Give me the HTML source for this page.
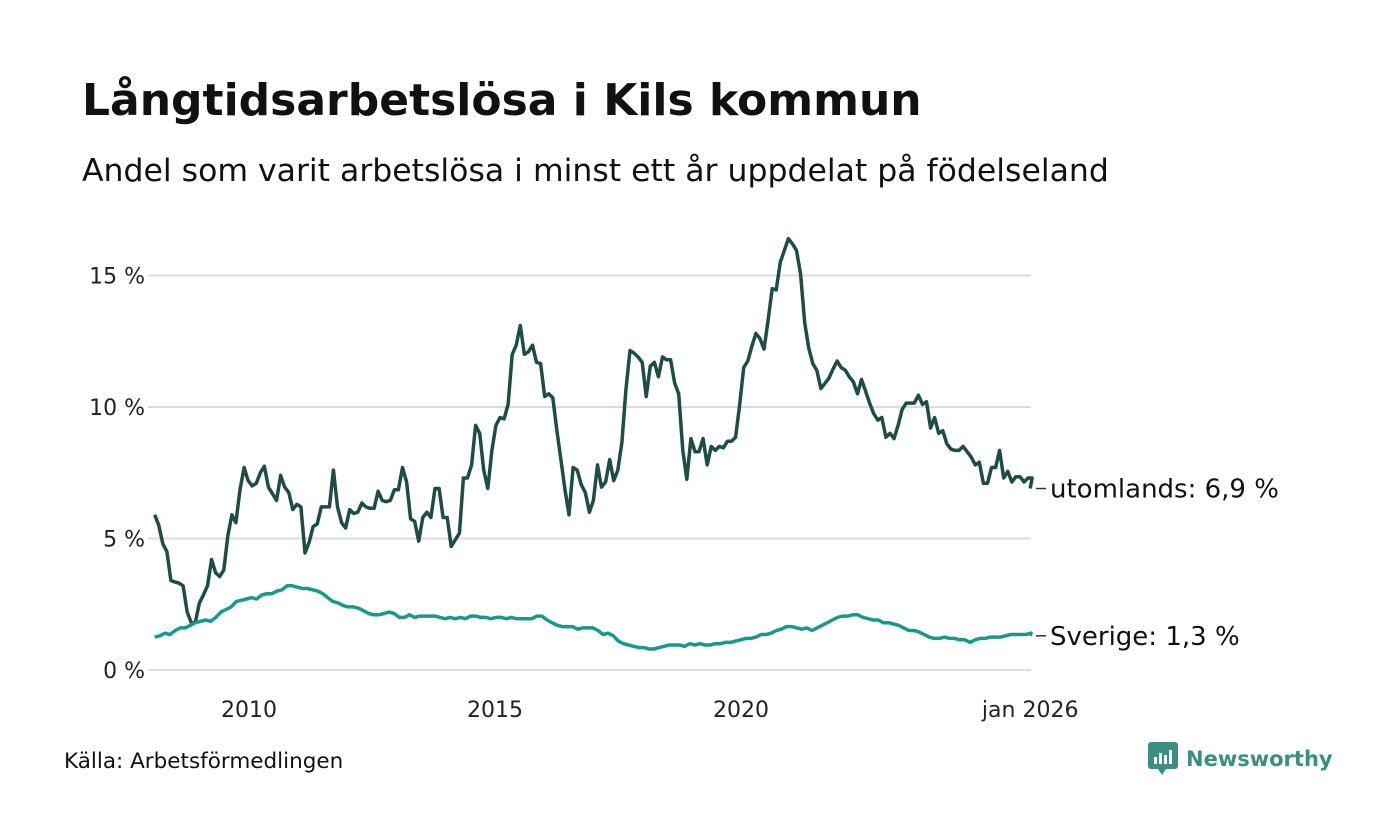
<!DOCTYPE html>
<html><head><meta charset="utf-8">
<style>
body{margin:0;background:#fff;font-family:"DejaVu Sans","Liberation Sans",sans-serif;}
#wrap{position:relative;width:1400px;height:840px;overflow:hidden;}
h1{position:absolute;left:82px;top:75px;margin:0;font-size:44px;font-weight:bold;color:#111;white-space:nowrap;}
.sub{position:absolute;left:82px;top:153px;font-size:31.5px;color:#111;white-space:nowrap;}
.src{position:absolute;left:64px;top:749px;font-size:21.5px;color:#111;}
.logo{position:absolute;left:1148px;top:742px;font-size:21px;font-weight:bold;color:#3a8f82;display:flex;align-items:center;gap:8px;}
svg{position:absolute;left:0;top:0;}
</style></head><body>
<div id="wrap">
<h1>Långtidsarbetslösa i Kils kommun</h1>
<div class="sub">Andel som varit arbetslösa i minst ett år uppdelat på födelseland</div>
<svg id="plot" width="1400" height="840"></svg>
<div class="src">Källa: Arbetsförmedlingen</div>
<div class="logo"><svg style="position:static" width="30" height="34" viewBox="0 0 30 34"><rect x="0" y="0" width="30" height="27" rx="3" fill="#3a8f82"/><polygon points="10,27 18,27 14,33" fill="#3a8f82"/><rect x="6" y="15" width="3" height="7" fill="#fff"/><rect x="11" y="11" width="3" height="11" fill="#fff"/><rect x="16" y="13" width="3" height="9" fill="#fff"/><rect x="21" y="8" width="3" height="14" fill="#fff"/></svg><span>Newsworthy</span></div>
</div>
<script>
const yTicks=[0,5,10,15];
const yTickLabels=["0 %","5 %","10 %","15 %"];
const xTicks=[2010,2015,2020,2026];
const xTickLabels=["2010","2015","2020","jan 2026"];
const utomlands=[5.9,5.5,4.8,4.5,3.4,3.35,3.3,3.2,2.2,1.8,1.8,2.55,2.85,3.2,4.2,3.7,3.55,3.8,5.1,5.9,5.6,6.85,7.7,7.2,7.0,7.1,7.5,7.75,6.95,6.7,6.45,7.4,6.95,6.75,6.1,6.3,6.2,4.45,4.85,5.45,5.55,6.2,6.2,6.2,7.6,6.2,5.6,5.4,6.1,5.95,6.0,6.35,6.2,6.15,6.15,6.8,6.45,6.4,6.45,6.85,6.85,7.7,7.15,5.75,5.65,4.9,5.8,6.0,5.8,6.9,6.9,5.8,5.8,4.7,4.95,5.2,7.3,7.3,7.8,9.3,9.0,7.6,6.9,8.35,9.3,9.6,9.55,10.1,12.0,12.35,13.1,12.0,12.1,12.35,11.7,11.65,10.4,10.5,10.35,9.1,8.0,6.85,5.9,7.7,7.6,7.05,6.75,6.0,6.45,7.8,6.95,7.15,8.0,7.2,7.6,8.65,10.65,12.15,12.05,11.9,11.7,10.4,11.55,11.7,11.15,11.9,11.8,11.8,10.9,10.5,8.35,7.25,8.8,8.3,8.3,8.8,7.8,8.5,8.35,8.5,8.45,8.7,8.7,8.85,10.1,11.5,11.75,12.3,12.8,12.6,12.2,13.3,14.5,14.45,15.5,15.95,16.4,16.2,15.95,15.05,13.2,12.25,11.65,11.4,10.7,10.9,11.1,11.45,11.75,11.5,11.4,11.15,10.95,10.5,11.05,10.6,10.15,9.75,9.5,9.6,8.85,9.0,8.8,9.3,9.9,10.15,10.15,10.15,10.45,10.1,10.2,9.2,9.6,9.0,9.1,8.6,8.4,8.35,8.35,8.5,8.3,8.1,7.8,7.9,7.1,7.1,7.7,7.7,8.35,7.3,7.55,7.15,7.35,7.35,7.15,7.3,7.3,6.9];
const sverige=[1.25,1.3,1.4,1.35,1.5,1.6,1.6,1.7,1.8,1.85,1.9,1.85,2.0,2.2,2.3,2.4,2.6,2.65,2.7,2.75,2.7,2.85,2.9,2.9,3.0,3.05,3.2,3.2,3.15,3.1,3.1,3.05,3.0,2.9,2.75,2.6,2.55,2.45,2.4,2.4,2.35,2.25,2.15,2.1,2.1,2.15,2.2,2.15,2.0,2.0,2.1,2.0,2.05,2.05,2.05,2.05,2.0,1.95,2.0,1.95,2.0,1.95,2.05,2.05,2.0,2.0,1.95,2.0,2.0,1.95,2.0,1.95,1.95,1.95,1.95,2.05,2.05,1.9,1.8,1.7,1.65,1.65,1.65,1.55,1.6,1.6,1.6,1.5,1.35,1.4,1.3,1.1,1.0,0.95,0.9,0.85,0.85,0.8,0.8,0.85,0.9,0.95,0.95,0.95,0.9,1.0,0.95,1.0,0.95,0.95,1.0,1.0,1.05,1.05,1.1,1.15,1.2,1.2,1.25,1.35,1.35,1.4,1.5,1.55,1.65,1.65,1.6,1.55,1.6,1.5,1.6,1.7,1.8,1.9,2.0,2.05,2.05,2.1,2.1,2.0,1.95,1.9,1.9,1.8,1.8,1.75,1.7,1.6,1.5,1.5,1.45,1.35,1.25,1.2,1.2,1.25,1.2,1.2,1.15,1.15,1.05,1.15,1.2,1.2,1.25,1.25,1.25,1.3,1.35,1.35,1.35,1.35,1.4,1.3];
const labels=["utomlands: 6,9 %","Sverige: 1,3 %"];
const startYear=2008+1/12, endYear=2026;
const NS="http://www.w3.org/2000/svg";
const FONT='DejaVu Sans, Liberation Sans, sans-serif';
const svg=document.getElementById('plot');
function yS(v){return 670-v*26.3;}
function xS(yr){return 249+(yr-2010)*49.2-(yr>=2026?6:0);}
function mk(t,a){const e=document.createElementNS(NS,t);for(const k in a)e.setAttribute(k,a[k]);svg.appendChild(e);return e;}
yTicks.forEach((v,i)=>{
 const g=mk('line',{x1:148,x2:1031,y1:yS(v),y2:yS(v),stroke:'#dcdcdf','stroke-width':2});
 
 
 const t=mk('text',{x:145,y:yS(v)+8,'text-anchor':'end','font-size':22,fill:'#222','font-family':FONT});
 t.textContent=yTickLabels[i];
 
 
});
xTicks.forEach((v,i)=>{
 const t=mk('text',{x:xS(v),y:717,'text-anchor':'middle','font-size':22,fill:'#222','font-family':FONT});
 t.textContent=xTickLabels[i];
 
 
});
function line(arr,color,name){
 const n=arr.length;
 const pts=arr.map((v,i)=>{const yr=startYear+i*(endYear-startYear)/(n-1);return xS(yr).toFixed(1)+','+yS(v).toFixed(1);});
 const p=mk('polyline',{points:pts.join(' '),fill:'none',stroke:color,'stroke-width':3.5,'stroke-linejoin':'round'});
 
 
 return yS(arr[n-1]);
}
const yU=line(utomlands,'#1f4d45','utomlands-line');
const yV=line(sverige,'#1a9988','sverige-line');
[[yU,labels[0],'utomlands-label'],[yV,labels[1],'sverige-label']].forEach(([y,txt,nm])=>{
 mk('line',{x1:1036,x2:1046,y1:y,y2:y,stroke:'#333','stroke-width':1.5});
 const t=mk('text',{x:1050,y:y+9,'font-size':26,fill:'#111','font-family':FONT});
 t.textContent=txt;
 
 
});
</script>
</body></html>
